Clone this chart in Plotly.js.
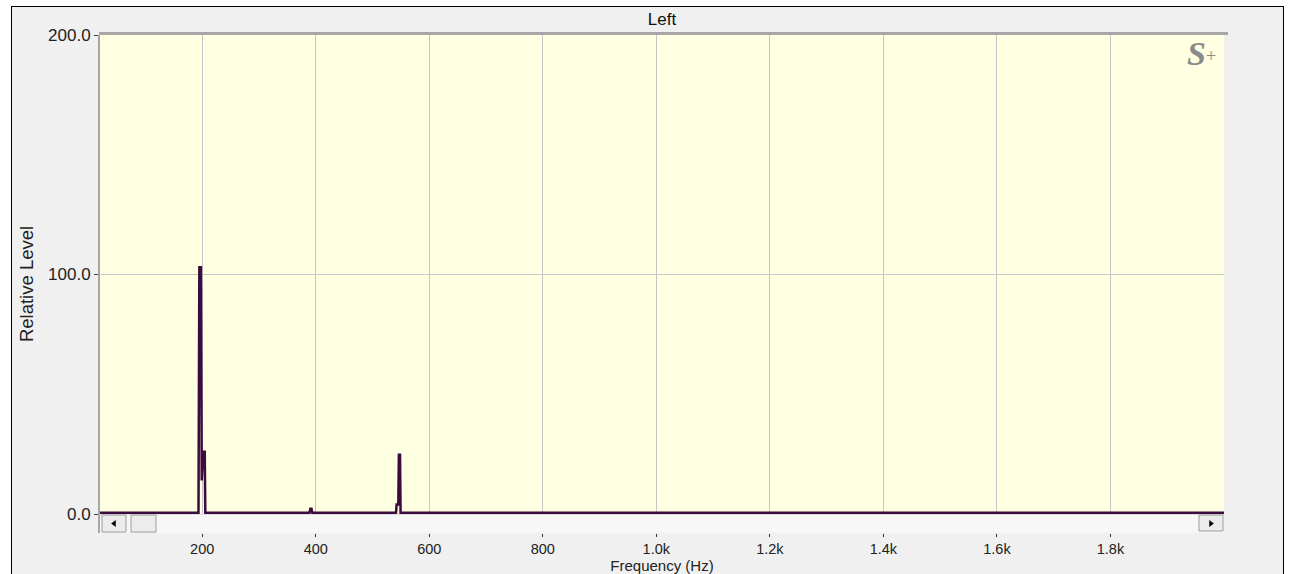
<!DOCTYPE html>
<html>
<head>
<meta charset="utf-8">
<script src="https://cdn.plot.ly/plotly-3.0.1.min.js"></script>
<style>
  html, body { margin: 0; padding: 0; background: #ffffff; }
  #frame { position: absolute; left: 11px; top: 6px; width: 1271px; height: 580px;
           background: #f0f0f0; border: 1px solid #000; border-bottom: none; }
  #chart { position: absolute; left: 0; top: 0; width: 1290px; height: 574px; }
</style>
</head>
<body>
<div id="frame"></div>
<div id="chart"></div>
<script>
// ---- data ----
const chartTitle = "Left";
const xAxisTitle = "Frequency (Hz)";
const yAxisTitle = "Relative Level";

const freqHz = [20, 193.5, 195, 197.8, 199.2, 201.8, 204.5, 205.5,
                389, 390.5, 392.5, 394,
                541.5, 542.5, 545.5, 546.5, 548.5, 549.5, 2000];
const level  = [0.5, 0.5, 103, 103, 14, 26, 26, 0.5,
                0.5, 2.2, 2.2, 0.5,
                0.5, 4, 4, 24.7, 24.7, 0.5, 0.5];

const xTickVals = [200, 400, 600, 800, 1000, 1200, 1400, 1600, 1800];
const xTickText = ["200", "400", "600", "800", "1.0k", "1.2k", "1.4k", "1.6k", "1.8k"];
const yTickVals = [0, 100, 200];
const yTickText = ["0.0", "100.0", "200.0"];
const xRange = [20, 2000];
const yRange = [-7.93, 200];

// ---- layout helpers (pixel -> paper) ----
const W = 1290, H = 574, ML = 100, MR = 66, MT = 35, MB = 41;
const PW = W - ML - MR, PH = H - MT - MB;
const px = v => (v - ML) / PW;
const py = v => (H - MB - v) / PH;
const FONT = "Liberation Sans, Arial, sans-serif";
const SERIF = "Liberation Serif, Times New Roman, serif";

function rect(x0, y0, x1, y1, fill, line) {
  return { type: "rect", xref: "paper", yref: "paper", layer: "above",
           x0: px(x0), x1: px(x1), y0: py(y1), y1: py(y0),
           fillcolor: fill, line: line ? { color: line, width: 1 } : { width: 0 } };
}
function tri(pts) {
  const d = pts.map((p, i) => (i ? "L" : "M") + px(p[0]) + "," + py(p[1])).join(" ") + " Z";
  return { type: "path", xref: "paper", yref: "paper", layer: "above", path: d,
           fillcolor: "#000", line: { color: "#000", width: 0.5 } };
}

const shapes = [
  rect(100, 514.5, 1224, 533, "#f7f7f7", null),
  rect(102, 515, 126, 532, "#ececec", "#9c9c9c"),
  rect(131, 515, 156, 532, "#ececec", "#9c9c9c"),
  rect(1199, 515, 1223, 531, "#ececec", "#9c9c9c"),
  tri([[115.5, 520.5], [111.5, 523.5], [115.5, 526.5]]),
  tri([[1209.5, 520.5], [1213.5, 523.5], [1209.5, 526.5]]),
  { type: "line", xref: "paper", yref: "paper", layer: "above",
    x0: px(99), x1: px(1228), y0: py(33.5), y1: py(33.5),
    line: { color: "#a6a6a6", width: 3 } }
];

const trace = {
  type: "scatter", mode: "lines",
  x: freqHz, y: level,
  line: { color: "#3b0a3f", width: 2.5 },
  hoverinfo: "x+y"
};

const layout = {
  width: W, height: H,
  margin: { l: ML, r: MR, t: MT, b: MB, pad: 0 },
  paper_bgcolor: "rgba(0,0,0,0)",
  plot_bgcolor: "#ffffe1",
  showlegend: false,
  font: { family: FONT, size: 17, color: "#222" },
  title: { text: chartTitle, font: { family: FONT, size: 17, color: "#111" },
           xref: "paper", x: 0.5, xanchor: "center",
           yref: "container", y: 1 - 19 / H, yanchor: "middle" },
  xaxis: {
    range: xRange, type: "linear", fixedrange: true,
    tickmode: "array", tickvals: xTickVals, ticktext: xTickText,
    ticks: "outside", ticklen: 3, tickwidth: 1, tickcolor: "#333",
    showgrid: true, gridcolor: "#c6c6c6", gridwidth: 1,
    zeroline: false, showline: false,
    tickfont: { family: FONT, size: 14.5, color: "#222" },
    title: { text: xAxisTitle, standoff: 3, font: { family: FONT, size: 15, color: "#222" } },
    automargin: false
  },
  yaxis: {
    range: yRange, fixedrange: true,
    tickmode: "array", tickvals: yTickVals, ticktext: yTickText,
    ticks: "outside", ticklen: 4, tickwidth: 1, tickcolor: "#444",
    showgrid: true, gridcolor: "#c6c6c6", gridwidth: 1,
    zeroline: false, showline: true, linecolor: "#a6a6a6", linewidth: 2,
    tickfont: { family: FONT, size: 17, color: "#222" },
    title: { text: yAxisTitle, standoff: 10, font: { family: FONT, size: 18.5, color: "#222" } },
    automargin: false
  },
  shapes: shapes,
  annotations: [{
    xref: "paper", yref: "paper", x: px(1208), y: py(53),
    xanchor: "right", yanchor: "middle", showarrow: false,
    text: "<b><i>S</i></b>",
    font: { family: SERIF, size: 34, color: "#8a8a8a" }
  }, {
    xref: "paper", yref: "paper", x: px(1204), y: py(56),
    xanchor: "left", yanchor: "middle", showarrow: false,
    text: "+",
    font: { family: SERIF, size: 18, color: "#8a8a8a" }
  }]
};

Plotly.newPlot("chart", [trace], layout, { displayModeBar: false, staticPlot: true });
</script>
</body>
</html>
